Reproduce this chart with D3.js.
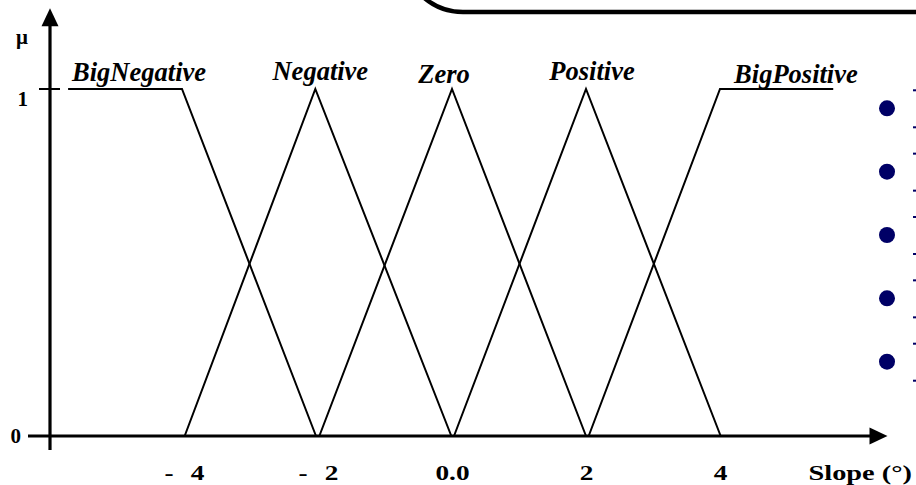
<!DOCTYPE html>
<html>
<head>
<meta charset="utf-8">
<script src="https://cdn.jsdelivr.net/npm/d3@7"></script>
<style>
  html, body { margin: 0; padding: 0; background: #fff; }
  svg { display: block; }
  text { font-family: "Liberation Serif", "Times New Roman", serif; font-weight: bold; }
</style>
</head>
<body>
<svg id="chart" width="916" height="485"></svg>
<script>
// ---- data ----
const setNames = ["BigNegative", "Negative", "Zero", "Positive", "BigPositive"];
const bigNegative = [[-5.73, 1], [-4.03, 1], [-2.03, 0]];
const negative    = [[-3.99, 0], [-2.04, 1], [-0.01, 0]];
const zero        = [[-1.98, 0], [0.0, 1], [2.0, 0]];
const positive    = [[0.03, 0], [2.0, 1], [4.01, 0]];
const bigPositive = [[2.04, 0], [4.0, 1], [5.69, 1]];
const seriesValues = [bigNegative, negative, zero, positive, bigPositive];
const xTickValues = [-4, -2, 0, 2, 4];
const xTickLabels = ["- 4", "- 2", "0.0", "2", "4"];
const yTickValues = [0, 1];
const yTickLabels = ["0", "1"];
const xAxisTitle = "Slope (°)";
const yAxisTitle = "μ";
const bulletCount = 5;

// ---- layout ----
const svg = d3.select("#chart");
const x = d3.scaleLinear().domain([-6, 6.5]).range([50, 887.5]);
const y = d3.scaleLinear().domain([0, 1]).range([436, 89]);

// label placement (pixel offsets from anchor point & baseline)
const labelLayout = [
  { anchor: -4.85, dx: 12, base: 81 },
  { anchor: -2.04, dx: 5,  base: 80 },
  { anchor: 0.0,   dx: -8, base: 83 },
  { anchor: 2.0,   dx: 6,  base: 80 },
  { anchor: 4.85,  dx: 19, base: 83 }
];

// decorative rounded box at the top
svg.append("path")
  .attr("d", "M 403 -60 L 403 -48 A 60 60 0 0 0 463 12 L 930 12")
  .attr("fill", "none").attr("stroke", "#000").attr("stroke-width", 4.5);

// membership functions
const line = d3.line().x(d => x(d[0])).y(d => y(d[1]));
svg.append("g").selectAll("path").data(seriesValues).join("path")
  .attr("d", line)
  .attr("fill", "none")
  .attr("stroke", "#000")
  .attr("stroke-width", 2);

// x axis line with arrow
const xAxisG = svg.append("g").attr("transform", `translate(0,${y(0)})`);
xAxisG.append("line").attr("x1", 28).attr("x2", x(6.5) - 12).attr("stroke", "#000").attr("stroke-width", 3.2);
xAxisG.append("path").attr("d", `M ${x(6.5)} 0 L ${x(6.5) - 18} -8.5 L ${x(6.5) - 18} 8.5 Z`).attr("fill", "#000");

// y axis line with arrow
const yTop = y(1.233);
svg.append("line").attr("x1", x(-6)).attr("x2", x(-6))
  .attr("y1", 450).attr("y2", yTop + 12).attr("stroke", "#000").attr("stroke-width", 3.2);
svg.append("path").attr("d", `M ${x(-6)} ${yTop} L ${x(-6) - 8.5} ${yTop + 18} L ${x(-6) + 8.5} ${yTop + 18} Z`).attr("fill", "#000");

// y tick at 1
svg.append("line").attr("x1", x(-6) - 11).attr("x2", x(-6) + 10)
  .attr("y1", y(1)).attr("y2", y(1)).attr("stroke", "#000").attr("stroke-width", 2);

// x tick labels via axis generator (no tick marks/domain shown)
const xAxis = d3.axisBottom(x).tickValues(xTickValues)
  .tickFormat((d, i) => xTickLabels[i]).tickSize(0).tickPadding(0);
const xg = svg.append("g").attr("transform", `translate(0,${y(0) + 44})`).call(xAxis);
xg.select(".domain").remove();
xg.selectAll("text")
  .attr("dy", null)
  .attr("font-size", 21).attr("fill", "#000")
  .attr("font-family", "Liberation Serif, Times New Roman, serif").attr("font-weight", "bold")
  .style("word-spacing", "8px")
  .attr("transform", "scale(1.3,1)");

// y tick labels
svg.append("g").selectAll("text").data(yTickValues).join("text")
  .attr("x", (d) => d === 1 ? 28 : 21)
  .attr("y", (d) => d === 1 ? y(d) + 17 : y(d) + 7)
  .attr("text-anchor", "end")
  .attr("font-size", 21)
  .text((d, i) => yTickLabels[i]);

// axis titles
svg.append("text").attr("text-anchor", "end")
  .attr("transform", "translate(912,480) scale(1.35,1)")
  .attr("font-size", 21).text(xAxisTitle);
svg.append("text").attr("x", 22).attr("y", 44).attr("text-anchor", "middle")
  .attr("font-size", 21).text(yAxisTitle);

// set labels
svg.append("g").selectAll("text").data(setNames).join("text")
  .attr("x", (d, i) => x(labelLayout[i].anchor) + labelLayout[i].dx)
  .attr("y", (d, i) => labelLayout[i].base)
  .attr("text-anchor", "middle")
  .attr("font-size", 26.5)
  .attr("font-style", "italic")
  .text(d => d);

// bullets on the right edge (clipped legend-like decoration)
const bullets = d3.range(bulletCount);
const bY = d3.scaleLinear().domain([0, bulletCount - 1]).range([108.3, 361.7]);
const bg = svg.append("g");
bg.selectAll("circle").data(bullets).join("circle")
  .attr("cx", 887).attr("cy", d => bY(d)).attr("r", 8).attr("fill", "#000066");
bg.selectAll("rect.up").data(bullets).join("rect").attr("class", "up")
  .attr("x", 913).attr("y", d => bY(d) - 19).attr("width", 3).attr("height", 2).attr("fill", "#000066");
bg.selectAll("rect.dn").data(bullets).join("rect").attr("class", "dn")
  .attr("x", 913).attr("y", d => bY(d) + 18).attr("width", 3).attr("height", 2).attr("fill", "#000066");
</script>
</body>
</html>
